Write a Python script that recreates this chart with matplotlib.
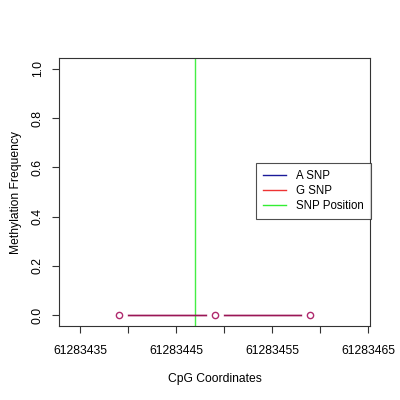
import matplotlib
matplotlib.use("Agg")
import matplotlib.pyplot as plt
from matplotlib.lines import Line2D

cpg_positions = [61283439, 61283449, 61283459]
a_snp_values = [0.0, 0.0, 0.0]
g_snp_values = [0.0, 0.0, 0.0]
snp_position = 61283447
x_ticks = [61283435, 61283440, 61283445, 61283450, 61283455, 61283460, 61283465]
x_tick_labels = ["61283435", "", "61283445", "", "61283455", "", "61283465"]
y_ticks = [0.0, 0.2, 0.4, 0.6, 0.8, 1.0]
y_tick_labels = ["0.0", "0.2", "0.4", "0.6", "0.8", "1.0"]
legend_labels = ["A SNP", "G SNP", "SNP Position"]

plt.rcParams['font.family'] = ['Liberation Sans', 'DejaVu Sans']
fig = plt.figure(figsize=(4, 4), dpi=100)
ax = fig.add_axes([59/400, 74/400, 311/400, 268/400])

ax.axvline(snp_position, color='#44ee44', lw=1.0, zorder=1)
ax.plot(cpg_positions, a_snp_values, color='#9a1656', lw=1.0, zorder=2)
ax.plot(cpg_positions, g_snp_values, color='#9a1656', lw=1.0, zorder=3)
# gaps around points (R type "b")
ax.plot(cpg_positions, g_snp_values, linestyle='none', marker='o', markersize=11,
        markerfacecolor='white', markeredgecolor='white', zorder=4)
ax.plot(cpg_positions, g_snp_values, linestyle='none', marker='o', markersize=4.5,
        markerfacecolor='none', markeredgecolor='#b02a6e', markeredgewidth=1.0, zorder=5)

ax.set_xlim(61283432.8, 61283465.2)
ax.set_ylim(-0.044, 1.044)
ax.set_xticks(x_ticks)
ax.set_xticklabels(x_tick_labels, fontsize=8.7)
ax.set_yticks(y_ticks)
ax.set_yticklabels(y_tick_labels, fontsize=8.7, rotation=90, va='center')
ax.tick_params(axis='x', length=5, pad=9, color='#333333')
ax.tick_params(axis='y', length=5, pad=6, color='#333333')
for s in ax.spines.values():
    s.set_linewidth(0.8)
    s.set_color('#333333')

ax.set_xlabel("CpG Coordinates", fontsize=8.7, labelpad=11)
ax.set_ylabel("Methylation Frequency", fontsize=8.7, labelpad=7)

handles = [Line2D([], [], color='#1a1a99', lw=1.0),
           Line2D([], [], color='#ee3333', lw=1.0),
           Line2D([], [], color='#33ee33', lw=1.0)]
leg = fig.legend(handles, legend_labels, loc='upper left',
                 bbox_to_anchor=(256/400, 1 - 163/400), fontsize=8.3,
                 frameon=True, fancybox=False, handlelength=2.0, borderpad=0.6,
                 labelspacing=0.25, handletextpad=0.9, borderaxespad=0)
leg.get_frame().set_edgecolor('#222222')
leg.get_frame().set_linewidth(0.8)

fig.savefig("out.png", dpi=100)
